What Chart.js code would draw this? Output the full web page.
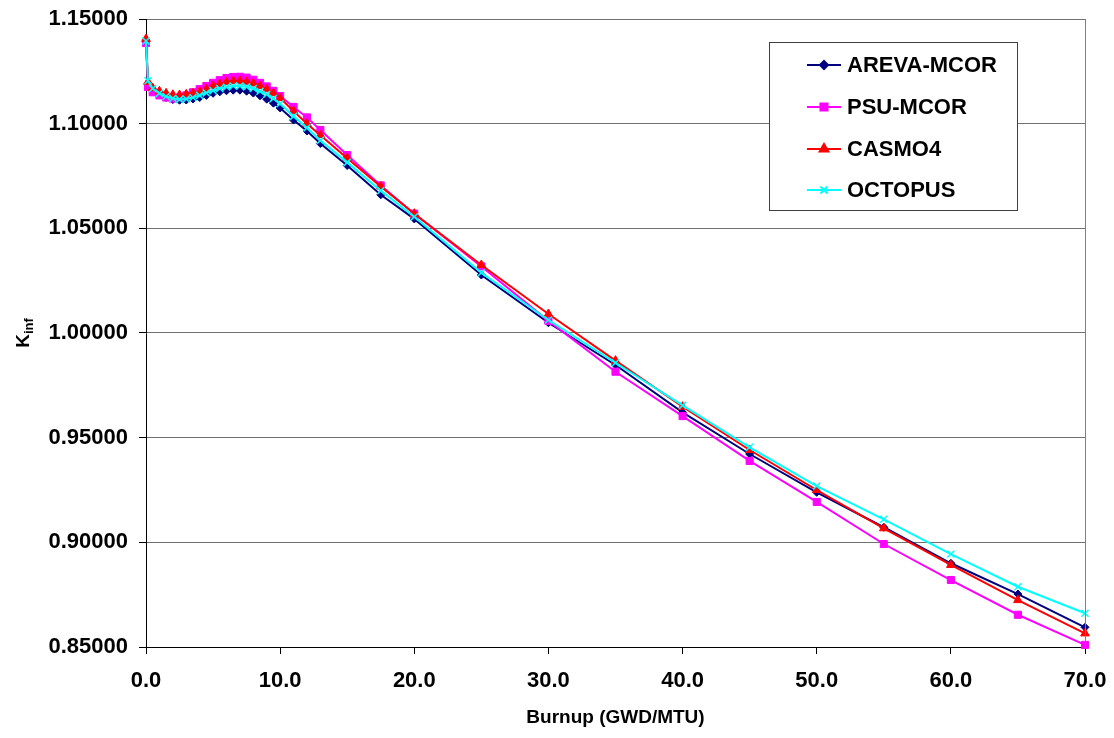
<!DOCTYPE html>
<html>
<head>
<meta charset="utf-8">
<title>Kinf vs Burnup</title>
<script src="https://cdn.jsdelivr.net/npm/chart.js@4.4.1/dist/chart.umd.min.js"></script>
<style>
  html, body { margin: 0; padding: 0; background: #fff; }
  #wrap { width: 1114px; height: 738px; }
</style>
</head>
<body>
<div id="wrap"><canvas id="kinfChart"></canvas></div>
<script>
// burnup steps (GWD/MTU)
const burnup = [0, 0.15, 0.5, 1, 1.5, 2, 2.5, 3, 3.5, 4, 4.5, 5, 5.5, 6, 6.5, 7, 7.5, 8, 8.5, 9, 9.5, 10,
  11, 12, 13, 15, 17.5, 20, 25, 30, 35, 40, 45, 50, 55, 60, 65, 70];

const arevaMcor = [1.1395, 1.1190, 1.1160, 1.1140, 1.1125, 1.1115, 1.1112, 1.1113, 1.1118, 1.1125, 1.1135,
  1.1145, 1.1152, 1.1157, 1.1160, 1.1160, 1.1155, 1.1146, 1.1133, 1.1117, 1.1098, 1.1075,
  1.1017, 1.0965, 1.0905, 1.0800, 1.0660, 1.0545, 1.0277, 1.0049, 0.9847, 0.9621, 0.9422,
  0.9239, 0.9072, 0.8900, 0.8753, 0.8594];

const psuMcor = [1.1385, 1.1175, 1.1150, 1.1135, 1.1125, 1.1120, 1.1125, 1.1135, 1.1150, 1.1165, 1.1180,
  1.1195, 1.1208, 1.1218, 1.1223, 1.1224, 1.1220, 1.1210, 1.1195, 1.1178, 1.1157, 1.1132,
  1.1080, 1.1030, 1.0970, 1.0850, 1.0705, 1.0570, 1.0318, 1.0058, 0.9815, 0.9603, 0.9389,
  0.9193, 0.8992, 0.8820, 0.8654, 0.8510];

const casmo4 = [1.1405, 1.1200, 1.1170, 1.1155, 1.1145, 1.1138, 1.1137, 1.1140, 1.1145, 1.1153, 1.1165,
  1.1180, 1.1190, 1.1198, 1.1203, 1.1204, 1.1200, 1.1192, 1.1180, 1.1164, 1.1145, 1.1122,
  1.1060, 1.1000, 1.0945, 1.0835, 1.0700, 1.0570, 1.0325, 1.0091, 0.9868, 0.9648, 0.9441,
  0.9250, 0.9067, 0.8892, 0.8724, 0.8565];

const octopus = [1.1395, 1.1205, 1.1168, 1.1145, 1.1130, 1.1121, 1.1116, 1.1118, 1.1125, 1.1135, 1.1147,
  1.1158, 1.1168, 1.1175, 1.1180, 1.1180, 1.1176, 1.1168, 1.1155, 1.1140, 1.1120, 1.1095,
  1.1035, 1.0980, 1.0920, 1.0815, 1.0680, 1.0555, 1.0288, 1.0062, 0.9858, 0.9654, 0.9454,
  0.9269, 0.9110, 0.8944, 0.8788, 0.8661];

const FONT = "'Liberation Sans', Arial, sans-serif";

function toPoints(values) {
  return values.map((v, i) => ({ x: burnup[i], y: v }));
}

function series(label, values, color, style, radius, order) {
  return {
    label: label,
    data: toPoints(values),
    borderColor: color,
    backgroundColor: color,
    pointBackgroundColor: color,
    pointBorderColor: color,
    pointStyle: style,
    pointRadius: radius,
    pointHoverRadius: radius,
    pointBorderWidth: style === 'crossRot' ? 1.5 : 1,
    borderWidth: 2,
    tension: 0,
    clip: false,
    order: order
  };
}

// legend box, axis titles and right border drawn by hand
const extras = {
  id: 'extras',
  afterDraw(chart) {
    const ctx = chart.ctx;
    const area = chart.chartArea;
    ctx.save();

    // right border of plot area
    ctx.strokeStyle = '#808080';
    ctx.lineWidth = 1;
    ctx.beginPath();
    ctx.moveTo(area.right + 0.5, area.top);
    ctx.lineTo(area.right + 0.5, area.bottom);
    ctx.stroke();

    // x title
    ctx.fillStyle = '#000';
    ctx.font = 'bold 19px ' + FONT;
    ctx.textAlign = 'center';
    ctx.textBaseline = 'middle';
    ctx.fillText('Burnup (GWD/MTU)', (area.left + area.right) / 2, 718);

    // y title with subscript
    ctx.save();
    ctx.translate(22, (area.top + area.bottom) / 2);
    ctx.rotate(-Math.PI / 2);
    ctx.textAlign = 'left';
    ctx.textBaseline = 'alphabetic';
    ctx.font = 'bold 19px ' + FONT;
    const kw = ctx.measureText('K').width;
    ctx.font = 'bold 13px ' + FONT;
    const sw = ctx.measureText('inf').width;
    const start = -(kw + sw) / 2;
    ctx.font = 'bold 19px ' + FONT;
    ctx.fillText('K', start, 7);
    ctx.font = 'bold 13px ' + FONT;
    ctx.fillText('inf', start + kw, 11);
    ctx.restore();

    // legend
    const box = { left: 769.5, top: 42.5, width: 248, height: 168 };
    ctx.fillStyle = '#fff';
    ctx.fillRect(box.left, box.top, box.width, box.height);
    ctx.strokeStyle = '#404040';
    ctx.lineWidth = 1;
    ctx.strokeRect(box.left, box.top, box.width, box.height);

    const rowsY = [65, 107, 149, 190];
    chart.data.datasets.forEach((ds, i) => {
      const y = rowsY[i];
      ctx.strokeStyle = ds.borderColor;
      ctx.lineWidth = 2;
      ctx.beginPath();
      ctx.moveTo(807, y);
      ctx.lineTo(841, y);
      ctx.stroke();
      ctx.fillStyle = ds.backgroundColor;
      Chart.helpers.drawPoint(ctx, {
        pointStyle: ds.pointStyle,
        radius: ds.pointRadius,
        rotation: 0,
        borderWidth: ds.pointBorderWidth
      }, 824, y);
      ctx.fillStyle = '#000';
      ctx.font = 'bold 22px ' + FONT;
      ctx.textAlign = 'left';
      ctx.textBaseline = 'middle';
      ctx.fillText(ds.label, 847, y + 1);
    });

    ctx.restore();
  }
};

const chartCanvas = document.querySelector('#kinfChart');

new Chart(chartCanvas, {
  type: 'line',
  data: {
    datasets: [
      series('AREVA-MCOR', arevaMcor, '#000080', 'rectRot', 4, 3),
      series('PSU-MCOR', psuMcor, '#FF00FF', 'rect', 5, 2),
      series('CASMO4', casmo4, '#FF0000', 'triangle', 5, 1),
      series('OCTOPUS', octopus, '#00FFFF', 'crossRot', 5, 0)
    ]
  },
  options: {
    responsive: true,
    maintainAspectRatio: false,
    animation: false,
    layout: { padding: { left: 0, top: 19, right: 29, bottom: 0 } },
    plugins: {
      legend: { display: false },
      tooltip: { enabled: false }
    },
    scales: {
      x: {
        type: 'linear',
        min: 0,
        max: 70,
        afterFit(scale) {
          scale.height = 91;
          scale.paddingLeft = 0;
          scale.paddingRight = 0;
        },
        ticks: {
          stepSize: 10,
          color: '#000',
          font: { family: FONT, size: 22, weight: 'bold' },
          padding: 14,
          maxRotation: 0,
          callback: v => Number(v).toFixed(1)
        },
        grid: {
          drawOnChartArea: false,
          drawTicks: true,
          tickLength: 7,
          tickColor: '#000'
        },
        border: { color: '#000', width: 1 }
      },
      y: {
        type: 'linear',
        min: 0.85,
        max: 1.15,
        afterFit(scale) {
          scale.width = 146;
          scale.paddingTop = 0;
          scale.paddingBottom = 0;
        },
        ticks: {
          stepSize: 0.05,
          color: '#000',
          font: { family: FONT, size: 22, weight: 'bold' },
          padding: 11,
          callback: v => Number(v).toFixed(5)
        },
        grid: {
          color: '#707070',
          tickLength: 7,
          tickColor: '#000'
        },
        border: { color: '#000', width: 1 }
      }
    }
  },
  plugins: [extras]
});
</script>
</body>
</html>
